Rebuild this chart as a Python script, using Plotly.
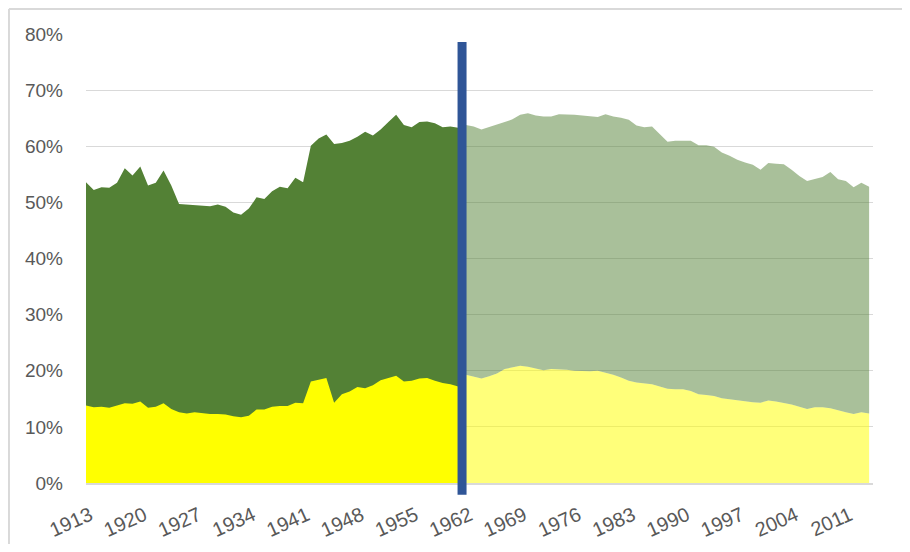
import plotly.graph_objects as go

# ---- data (percent) ----
years_early = list(range(1913, 1962))
years_late = list(range(1962, 2015))

top_early = [53.6, 52.2, 52.7, 52.6, 53.5, 56.1, 54.8, 56.4, 53.0, 53.5,
             55.7, 53.0, 49.7, 49.6, 49.6, 49.5, 49.3, 49.6, 49.2, 48.2,
             47.8, 48.9, 50.9, 50.6, 52.0, 52.8, 52.5, 54.4, 53.6, 60.1,
             61.4, 62.1, 60.4, 60.6, 61.0, 61.7, 62.6, 61.9, 63.0, 64.3,
             65.6, 63.8, 63.4, 64.3, 64.4, 64.1, 63.4, 63.5, 63.3]
bottom_early = [13.8, 13.5, 13.6, 13.4, 13.8, 14.2, 14.1, 14.5, 13.4, 13.6,
                14.2, 13.2, 12.6, 12.4, 12.6, 12.4, 12.3, 12.3, 12.2, 11.9,
                11.7, 12.0, 13.1, 13.1, 13.6, 13.7, 13.7, 14.3, 14.2, 18.1,
                18.4, 18.7, 14.3, 15.8, 16.3, 17.1, 16.9, 17.4, 18.3, 18.7,
                19.1, 18.1, 18.2, 18.6, 18.7, 18.2, 17.8, 17.6, 17.2]
top_late = [63.8, 63.5, 63.0, 63.4, 63.9, 64.3, 64.8, 65.6, 65.9, 65.5,
            65.3, 65.3, 65.7, 65.7, 65.6, 65.5, 65.3, 65.2, 65.7, 65.3,
            65.1, 64.7, 63.7, 63.4, 63.5, 62.2, 60.8, 61.0, 61.0, 61.0,
            60.2, 60.2, 59.9, 58.9, 58.3, 57.6, 57.1, 56.7, 55.8, 57.0,
            56.9, 56.8, 55.8, 54.7, 53.8, 54.1, 54.5, 55.4, 54.1, 53.8,
            52.7, 53.5, 52.8]
bottom_late = [19.3, 18.9, 18.6, 19.0, 19.5, 20.3, 20.6, 20.9, 20.7, 20.4,
               20.1, 20.3, 20.3, 20.2, 20.0, 19.9, 19.9, 20.0, 19.7, 19.3,
               18.8, 18.2, 17.9, 17.8, 17.6, 17.2, 16.8, 16.7, 16.7, 16.4,
               15.8, 15.7, 15.5, 15.1, 14.9, 14.7, 14.5, 14.4, 14.3, 14.7,
               14.5, 14.3, 14.0, 13.6, 13.2, 13.5, 13.5, 13.3, 12.9, 12.6,
               12.3, 12.6, 12.4]

tick_years = [1913, 1920, 1927, 1934, 1941, 1948, 1955, 1962, 1969, 1976,
              1983, 1990, 1997, 2004, 2011]
y_ticks = [0, 10, 20, 30, 40, 50, 60, 70, 80]
divider_year = 1961.5

DARK_GREEN = "#538135"
YELLOW = "#FFFF00"
LIGHT_GREEN = "rgba(83,129,53,0.5)"
LIGHT_YELLOW = "rgba(255,255,0,0.52)"
GRID = "#D9D9D9"
TEXT = "#595959"
FONT = "Liberation Sans, Arial, sans-serif"

fig = go.Figure()
fig.add_trace(go.Scatter(x=years_early, y=top_early, mode="lines",
                         line=dict(width=0, color=DARK_GREEN),
                         fill="tozeroy", fillcolor=DARK_GREEN, hoverinfo="skip"))
fig.add_trace(go.Scatter(x=years_early, y=bottom_early, mode="lines",
                         line=dict(width=0, color=YELLOW),
                         fill="tozeroy", fillcolor=YELLOW, hoverinfo="skip"))
fig.add_trace(go.Scatter(x=years_late, y=bottom_late, mode="lines",
                         line=dict(width=0, color=LIGHT_YELLOW),
                         fill="tozeroy", fillcolor=LIGHT_YELLOW, hoverinfo="skip"))
fig.add_trace(go.Scatter(x=years_late, y=top_late, mode="lines",
                         line=dict(width=0, color=LIGHT_GREEN),
                         fill="tonexty", fillcolor=LIGHT_GREEN, hoverinfo="skip"))

# divider line
fig.add_shape(type="line", xref="x", yref="paper",
              x0=divider_year, x1=divider_year, y0=-0.026, y1=0.982,
              line=dict(color="#2F5597", width=9), layer="above")

# chart-area border (top and left edges visible)
fig.add_shape(type="line", xref="paper", yref="paper",
              x0=-0.0979, x1=1.2, y0=1.0556, y1=1.0556,
              line=dict(color=GRID, width=2))
fig.add_shape(type="line", xref="paper", yref="paper",
              x0=-0.0979, x1=-0.0979, y0=-0.3, y1=1.0556,
              line=dict(color=GRID, width=2))

fig.update_layout(
    width=894, height=536,
    margin=dict(l=78, r=29, t=26, b=61, autoexpand=False),
    paper_bgcolor="white", plot_bgcolor="white",
    showlegend=False,
    font=dict(family=FONT, size=19, color=TEXT),
)
fig.update_xaxes(range=[1913, 2014.5], tickmode="array", tickvals=tick_years,
                 ticktext=[str(t) for t in tick_years], tickangle=-24,
                 showgrid=False, zeroline=False, showline=True,
                 linecolor=GRID, linewidth=2, ticks="", automargin=False,
                 ticklabelstandoff=11, ticklabelshift=4,
                 tickfont=dict(size=20, color=TEXT))
fig.update_yaxes(range=[0, 80], tickmode="array", tickvals=y_ticks,
                 ticktext=[f"{v}%" for v in y_ticks],
                 showgrid=True, gridcolor=GRID, gridwidth=1,
                 zeroline=False, showline=False, ticks="", automargin=False,
                 ticklabelstandoff=22, tickfont=dict(size=19, color=TEXT))

fig.write_html("out.html")
